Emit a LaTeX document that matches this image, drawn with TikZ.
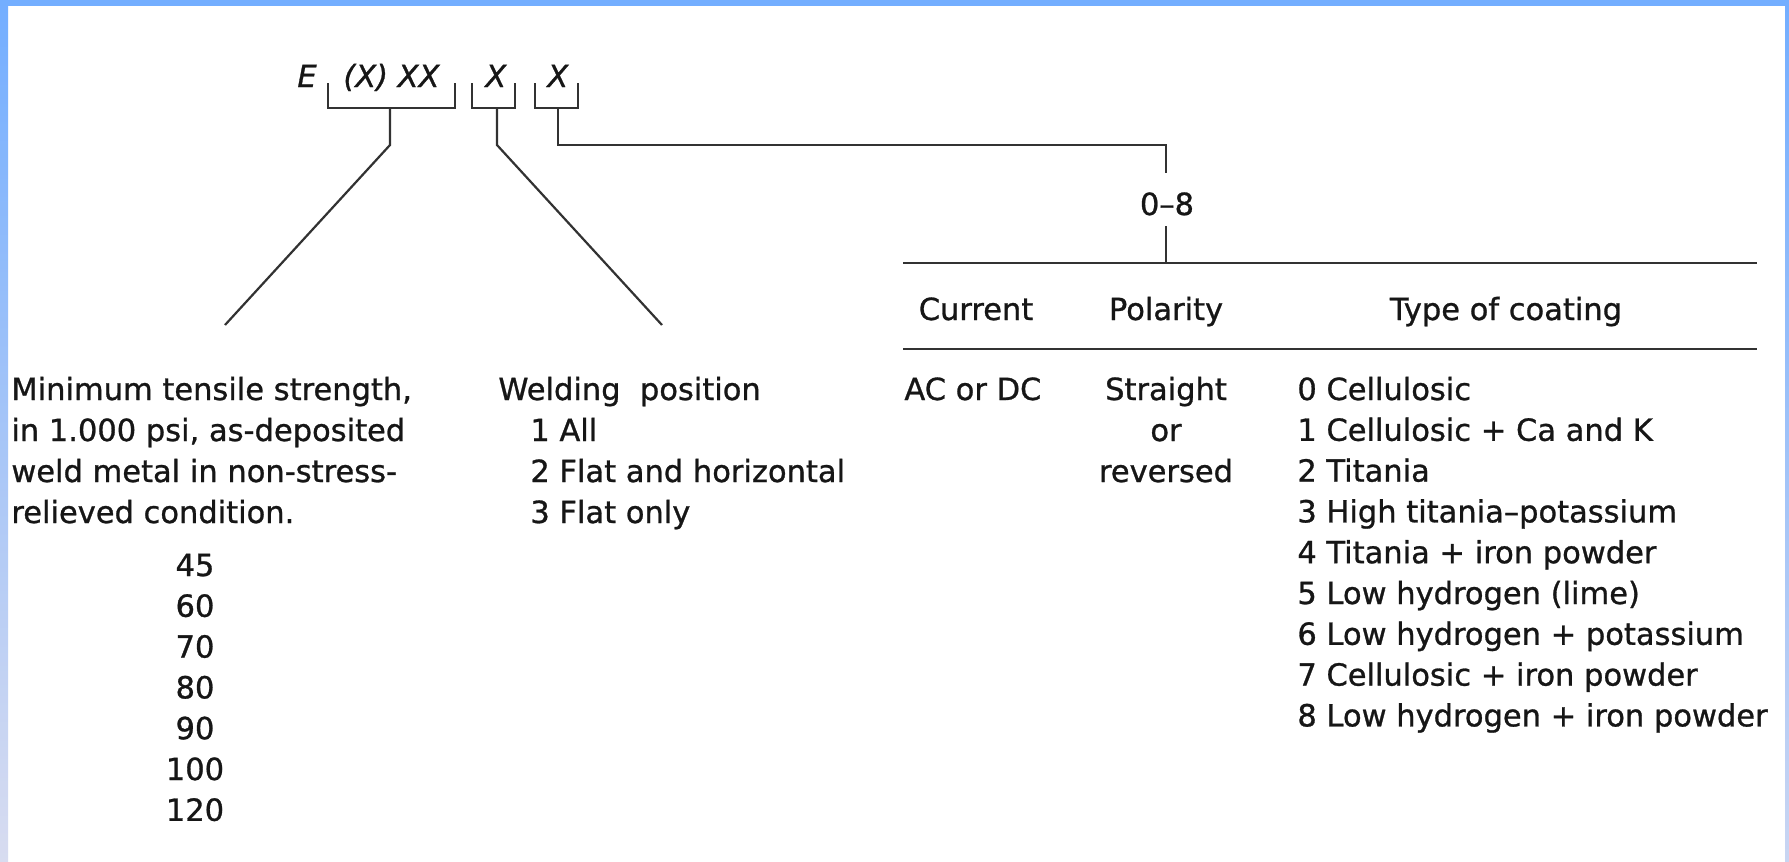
\documentclass[tikz,border=0pt]{standalone}
\usepackage{fontspec}
\setmainfont{DejaVu Sans}[RawFeature={embolden=0.9}]
\definecolor{frameA}{RGB}{115,174,255}
\definecolor{frameB}{RGB}{216,220,240}
\definecolor{ink}{RGB}{22,22,22}
\definecolor{rule}{RGB}{50,50,50}
\newcommand{\txtsize}{\fontsize{15.25}{20.5}\selectfont}
\tikzset{
  lbl/.style={inner sep=0pt, anchor=base west, font=\txtsize, text=ink},
  clbl/.style={inner sep=0pt, anchor=base, font=\txtsize, text=ink},
  code/.style={inner sep=0pt, anchor=base west, font=\txtsize\itshape, text=ink},
  ln/.style={draw=rule, line width=1.1pt},
}
\begin{document}
\begin{tikzpicture}[x=0.5pt,y=-0.5pt]
\useasboundingbox (0,0) rectangle (1789,862);
\fill[white] (0,0) rectangle (1789,862);
\shade[top color=frameA,bottom color=frameB] (0,0) rectangle (8,862);
\shade[top color=frameA,bottom color=frameB!85!frameA] (1785,0) rectangle (1789,862);
\fill[frameA] (0,0) rectangle (1789,6);

% code line
\node[code] (cE) at (297,87) {E};
\node[code] (cX1) at (343,87) {(X) XX};
\node[code] (cX2) at (485,87) {X};
\node[code] (cX3) at (547,87) {X};

% brackets
\draw[ln] (328,83) -- (328,108) -- (455,108) -- (455,83);
\draw[ln] (472,83) -- (472,108) -- (515,108) -- (515,83);
\draw[ln] (535,83) -- (535,108) -- (578,108) -- (578,83);

\coordinate (s1) at (390,108);
\coordinate (k1) at (390,145);
\coordinate (e1) at (225,325);
\coordinate (s2) at (497,108);
\coordinate (k2) at (497,145);
\coordinate (e2) at (662,325);
\coordinate (s3) at (558,108);
\coordinate (k3) at (558,145);
\coordinate (k3b) at (1166,145);
\coordinate (rtop) at (1166,173);
\coordinate (rbot) at (1166,226);
\coordinate (ttop) at (1166,263);

\draw[ln] (s1) -- (k1) -- (e1);
\draw[ln] (s2) -- (k2) -- (e2);
\draw[ln] (s3) -- (k3) -- (k3b) -- (rtop);

\node[clbl] (range) at (1167,215) {0–8};
\draw[ln] (rbot) -- (ttop);

% table rules
\coordinate (tl1) at (903,263);
\coordinate (tr1) at (1757,263);
\coordinate (tl2) at (903,349);
\coordinate (tr2) at (1757,349);
\draw[ln] (tl1) -- (tr1);
\draw[ln] (tl2) -- (tr2);

\node[clbl] (hCur) at (976,320) {Current};
\node[clbl] (hPol) at (1166,320) {Polarity};
\node[clbl] (hType) at (1506,320) {Type of coating};

% left block
\node[lbl] (m1) at (11,400) {Minimum tensile strength,};
\node[lbl] (m2) at (11,441) {in 1.000 psi, as-deposited};
\node[lbl] (m3) at (11,482) {weld metal in non-stress-};
\node[lbl] (m4) at (11,523) {relieved condition.};
\foreach \v [count=\i from 0] in {45,60,70,80,90,100,120}
  \node[clbl] (n\i) at (195,576+40.8*\i) {\v};

% welding position
\node[lbl] (w0) at (498,400) {Welding\ \ position};
\node[lbl] (w1) at (530,441) {1 All};
\node[lbl] (w2) at (530,482) {2 Flat and horizontal};
\node[lbl] (w3) at (530,523) {3 Flat only};

% current / polarity
\node[lbl] (acdc) at (904,400) {AC or DC};
\node[clbl] (p1) at (1166,400) {Straight};
\node[clbl] (p2) at (1166,441) {or};
\node[clbl] (p3) at (1166,482) {reversed};

% coatings
\foreach \t [count=\i from 0] in {0 Cellulosic,1 Cellulosic + Ca and K,2 Titania,3 High titania–potassium,4 Titania + iron powder,5 Low hydrogen (lime),6 Low hydrogen + potassium,7 Cellulosic + iron powder,8 Low hydrogen + iron powder}
  \node[lbl] (c\i) at (1297,400+40.8*\i) {\t};
\end{tikzpicture}
\end{document}
